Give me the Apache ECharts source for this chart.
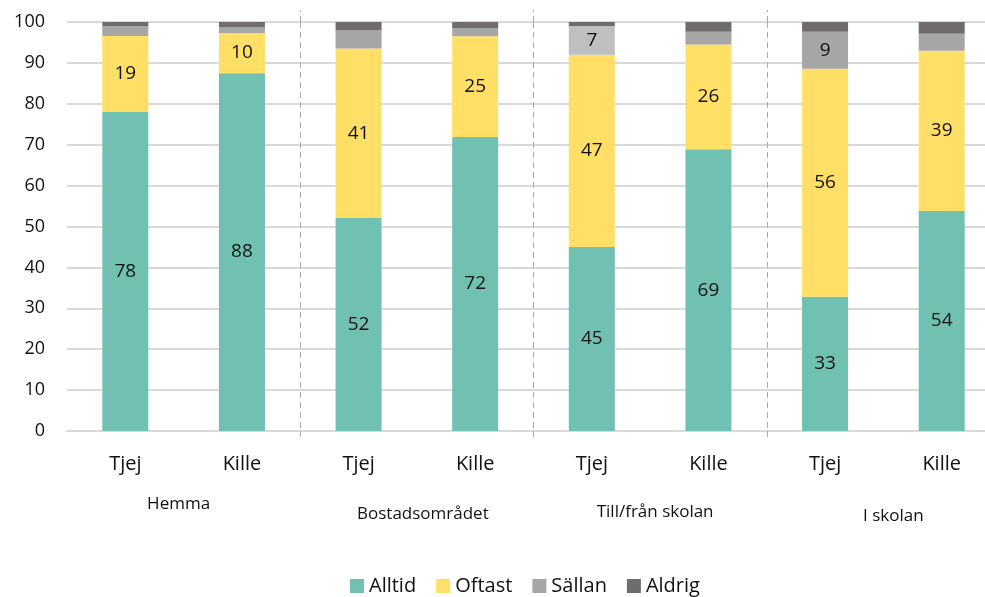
<!DOCTYPE html>
<html>
<head>
<meta charset="utf-8">
<script src="https://cdn.jsdelivr.net/npm/echarts@6/dist/echarts.min.js"></script>
<style>
  html, body { margin: 0; padding: 0; background: #fff; overflow: hidden; }
  /* the original plot runs past the right edge, so the canvas is a bit wider than the window */
  #chart { width: 1000px; height: 597px; }
</style>
</head>
<body>
<div id="chart"></div>
<script>
const categories = ['Tjej', 'Kille', 'Tjej', 'Kille', 'Tjej', 'Kille', 'Tjej', 'Kille'];
const groups = ['Hemma', 'Bostadsområdet', 'Till/från skolan', 'I skolan'];
const yTicks = [0, 10, 20, 30, 40, 50, 60, 70, 80, 90, 100];

const alltid = [78.0, 87.5, 52.1, 71.9, 45.0, 68.9, 32.8, 53.8];
const oftast = [18.6, 9.8, 41.4, 24.6, 47.0, 25.6, 55.8, 39.2];
const sallan = [2.4, 1.5, 4.4, 2.0, 7.0, 3.1, 9.0, 4.1];
const aldrig = [1.0, 1.2, 2.1, 1.5, 1.0, 2.4, 2.4, 2.9];

const COLORS = ['#71c1b3', '#ffdf66', '#a6a6a6', '#716c6c'];
const FONT = 'Open Sans';

const chart = echarts.init(document.getElementById('chart'));

const label = {
  show: true,
  color: '#111',
  fontSize: 19,
  fontFamily: FONT,
  formatter: (p) => (p.value >= 5 ? Math.round(p.value) : ''),
};

const makeSeries = (name, values, idx) => ({
  name,
  type: 'bar',
  stack: 'total',
  barWidth: 46,
  label,
  itemStyle: { color: COLORS[idx] },
  data: values.map((v, i) => {
    // the labelled Sällan piece for Till/från Tjej is drawn lighter
    if (name === 'Sällan' && i === 4) return { value: v, itemStyle: { color: '#bfbfbf' } };
    return v;
  }),
});

// small per-label nudges so the group names sit like the original
const groupPad = {
  Hemma: [2, 10, 0, 0],
  'Bostadsområdet': [12, 0, 0, 12],
  'Till/från skolan': [10, 0, 0, 10],
  'I skolan': [14, 0, 0, 20],
};
const groupRich = {};
groups.forEach((g, i) => {
  groupRich['g' + i] = { fontSize: 17, fontFamily: FONT, color: '#111', padding: groupPad[g] };
});

const option = {
  backgroundColor: '#fff',
  animation: false,
  grid: { left: 67, top: 22, right: 0, height: 409 },
  legend: {
    top: 571,
    left: 345,
    itemWidth: 14,
    itemHeight: 14,
    itemGap: 20,
    icon: 'rect',
    textStyle: { fontSize: 20, fontFamily: FONT, color: '#111' },
    data: ['Alltid', 'Oftast', 'Sällan', 'Aldrig'],
  },
  xAxis: [
    {
      type: 'category',
      data: categories,
      axisLine: { lineStyle: { color: '#d9d9d9', width: 2 } },
      axisTick: { show: false },
      axisLabel: { color: '#111', fontSize: 20, fontFamily: FONT, margin: 23 },
    },
    {
      type: 'category',
      data: groups,
      position: 'bottom',
      axisLine: { show: false },
      axisTick: {
        show: true,
        length: 6,
        interval: (i) => i > 0,
        lineStyle: { color: '#aaa', type: [6, 4] },
      },
      splitLine: {
        show: true,
        interval: (i) => i > 0,
        lineStyle: { color: '#aaa', type: [6, 4] },
      },
      axisLabel: {
        margin: 63,
        formatter: (v) => '{g' + groups.indexOf(v) + '|' + v + '}',
        rich: groupRich,
      },
    },
    {
      type: 'category',
      data: groups,
      position: 'top',
      axisLine: { show: false },
      axisLabel: { show: false },
      axisTick: {
        show: true,
        length: 12,
        interval: (i) => i > 0,
        lineStyle: { color: '#aaa', type: [6, 4] },
      },
    },
  ],
  yAxis: {
    type: 'value',
    min: yTicks[0],
    max: yTicks[yTicks.length - 1],
    interval: 10,
    axisLine: { show: false },
    axisTick: { show: false },
    splitLine: { lineStyle: { color: '#d9d9d9', width: 2 } },
    axisLabel: { color: '#111', fontSize: 18, fontFamily: FONT, margin: 22 },
  },
  series: [
    makeSeries('Alltid', alltid, 0),
    makeSeries('Oftast', oftast, 1),
    makeSeries('Sällan', sallan, 2),
    makeSeries('Aldrig', aldrig, 3),
  ],
};

chart.setOption(option);
</script>
</body>
</html>
